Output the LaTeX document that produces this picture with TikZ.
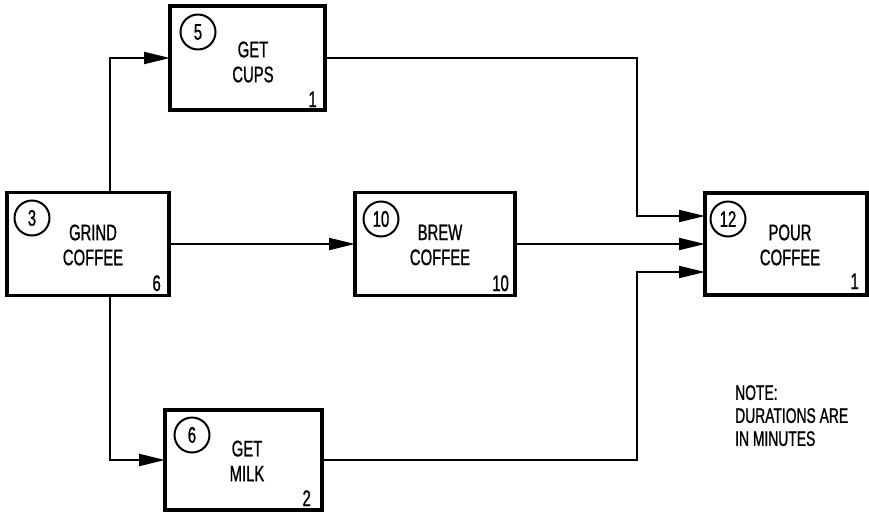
\documentclass[tikz,border=0pt]{standalone}
\usepackage{fontspec}
\setmainfont{Liberation Sans}[FakeStretch=0.66,FakeBold=1]
\usetikzlibrary{arrows.meta,calc}
\begin{document}
\begin{tikzpicture}[x=1pt,y=-1pt,
  every node/.style={font=\fontsize{22.5}{25}\selectfont},
  task/.style={draw, line width=3.5pt, rectangle, inner sep=0pt, outer sep=0pt},
  num/.style={draw, circle, line width=2pt, minimum size=35pt, inner sep=0pt},
  lbl/.style={align=center, inner sep=0pt},
  dur/.style={anchor=base east, inner sep=0pt},
  arr/.style={line width=2pt, -{Triangle[length=26pt,width=12pt]}}]
\useasboundingbox (0,0) rectangle (869,514);
% boxes
\node[task, minimum width=162pt, minimum height=103pt] (grind) at (88,244) {};
\node[task, minimum width=155pt, minimum height=104pt] (cups) at (247.5,58) {};
\node[task, minimum width=160pt, minimum height=103pt] (brew) at (435,244) {};
\node[task, minimum width=162pt, minimum height=102pt] (pour) at (786,244) {};
\node[task, minimum width=157pt, minimum height=100pt] (milk) at (243.5,460) {};
% labels
\node[lbl] (tgrind) at (93,245) {GRIND\\COFFEE};
\node[lbl] (tcups) at (253,62) {GET\\CUPS};
\node[lbl] (tbrew) at (440,245) {BREW\\COFFEE};
\node[lbl] (tpour) at (790,245) {POUR\\COFFEE};
\node[lbl] (tmilk) at (247,461) {GET\\MILK};
% circles
\node[num] (cgrind) at (32,218) {3};
\node[num] (ccups) at (198,32) {5};
\node[num] (cbrew) at (381,219) {10};
\node[num] (cpour) at (728,219) {12};
\node[num] (cmilk) at (192,435) {6};
% durations
\node[dur] (dgrind) at (161,291) {6};
\node[dur] (dcups) at (317,107) {1};
\node[dur] (dbrew) at (509,291) {10};
\node[dur] (dpour) at (859,289) {1};
\node[dur] (dmilk) at (311,506) {2};
% note
\node[align=left, anchor=north west, inner sep=0pt, font=\fontsize{21}{23}\selectfont] (note) at (735,385) {NOTE:\\DURATIONS ARE\\IN MINUTES};
% connectors
\coordinate (p1) at ([yshift=28pt]pour.west);
\coordinate (p3) at ([yshift=-28pt]pour.west);
\coordinate (jx) at (637,0);
\coordinate (gx) at (110,0);
\draw[arr] (gx |- grind.north) |- (cups.west);
\draw[arr] (gx |- grind.south) |- (milk.west);
\draw[arr] (grind.east) -- (brew.west);
\draw[arr] (brew.east) -- (pour.west);
\draw[arr] (cups.east) -| (jx |- p1) -- (p1);
\draw[arr] (milk.east) -| (jx |- p3) -- (p3);
\end{tikzpicture}
\end{document}
